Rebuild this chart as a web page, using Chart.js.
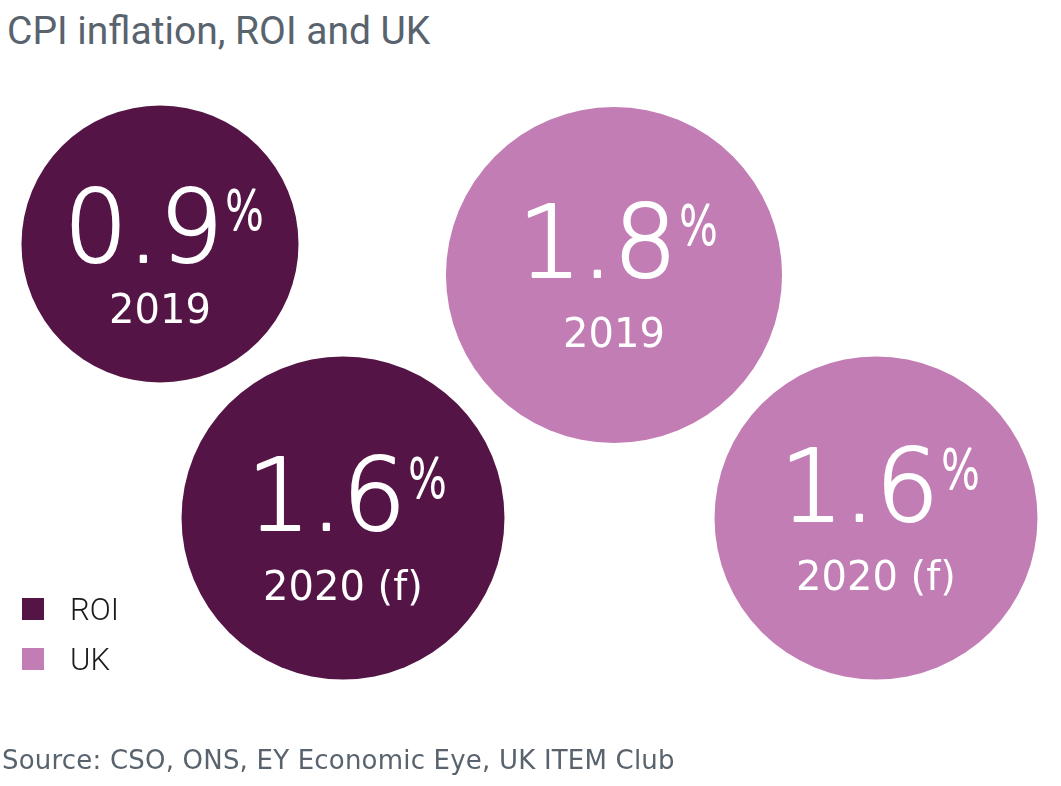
<!DOCTYPE html>
<html>
<head>
<meta charset="utf-8">
<script src="https://cdn.jsdelivr.net/npm/chart.js@4"></script>
<style>
  html, body { margin: 0; padding: 0; background: #fff; }
  #wrap { position: relative; width: 1061px; height: 786px; overflow: hidden; }
  #wrap canvas { position: absolute; left: 0; top: 0; }
  .title { position: absolute; left: 7px; top: 8px; font-family: Roboto, sans-serif; font-size: 39px; color: #58636e; white-space: nowrap; }
  .source { position: absolute; left: 2px; top: 745px; font-family: "DejaVu Sans", sans-serif; font-size: 26px; letter-spacing: 0.2px; color: #58636e; white-space: nowrap; }
  .legend { position: absolute; left: 22px; top: 598px; font-family: Roboto, sans-serif; font-weight: 300; font-size: 31px; color: #1a1a1a; }
  .legend div { position: relative; height: 50px; }
  .legend span.box { position: absolute; left: 0; top: 0; width: 22px; height: 22px; }
  .legend span.lab { position: absolute; left: 48px; top: -7px; }
</style>
</head>
<body>
<div id="wrap">
  <div class="title">CPI inflation, ROI and UK</div>
  <canvas id="cpi" width="1061" height="786"></canvas>
  <div class="legend" id="legend"></div>
  <div class="source">Source: CSO, ONS, EY Economic Eye, UK ITEM Club</div>
</div>
<script>
// data
const countries = ['ROI', 'UK'];
const years = ['2019', '2020 (f)'];
const roiValues = [0.9, 1.6];
const ukValues = [1.8, 1.6];

// styling / layout (kept apart from the data)
const colours = { ROI: '#541446', UK: '#c17db4' };
// where each bubble sits on the page in px: x, y, number baseline offset, year baseline offset
const spots = {
  ROI: [[160, 244, 19, 60], [343, 518, 13, 69]],
  UK: [[614, 275, 3, 69], [876, 518, 4, 68]]
};
// bubble radius grows with the rate
const radiusFor = v => 109 + 32.8 * v;

const valuesBy = { ROI: roiValues, UK: ukValues };

const datasets = countries.map(c => ({
  label: c,
  data: valuesBy[c].map((v, i) => ({
    x: spots[c][i][0],
    y: spots[c][i][1],
    r: radiusFor(v),
    v: v,
    year: years[i],
    dy: spots[c][i][2],
    dyYear: spots[c][i][3]
  })),
  backgroundColor: colours[c],
  borderWidth: 0,
  hoverBorderWidth: 0,
  hoverRadius: 0,
  clip: false
}));

// labels inside bubbles
const bubbleLabels = {
  id: 'bubbleLabels',
  afterDatasetsDraw(chart) {
    const ctx = chart.ctx;
    const numSize = 100, pctSize = 54, yearSize = 40, pctSqueeze = 0.76;
    chart.data.datasets.forEach((ds, di) => {
      chart.getDatasetMeta(di).data.forEach((el, i) => {
        const d = ds.data[i];
        const num = d.v.toFixed(1);
        ctx.save();
        ctx.fillStyle = '#fff';
        ctx.strokeStyle = '#fff';
        ctx.lineJoin = 'round';
        ctx.textBaseline = 'alphabetic';
        ctx.font = '200 ' + numSize + 'px "DejaVu Sans"';
        const wNum = ctx.measureText(num).width;
        ctx.font = '200 ' + pctSize + 'px "DejaVu Sans"';
        const wPct = ctx.measureText('%').width * pctSqueeze;
        const left = el.x + 3 - (wNum + wPct) / 2;
        const base = el.y + d.dy;
        ctx.textAlign = 'left';
        ctx.font = '200 ' + numSize + 'px "DejaVu Sans"';
        ctx.lineWidth = 2.2;
        ctx.fillText(num, left, base - 1);
        ctx.strokeText(num, left, base - 1);
        // squeezed superscript %
        ctx.font = '200 ' + pctSize + 'px "DejaVu Sans"';
        const top = base - 0.729 * numSize;
        ctx.save();
        ctx.translate(left + wNum + 2, top + 0.729 * pctSize);
        ctx.scale(pctSqueeze, 1);
        ctx.lineWidth = 1.8;
        ctx.fillText('%', 0, 0);
        ctx.strokeText('%', 0, 0);
        ctx.restore();
        ctx.font = yearSize + 'px "DejaVu Sans"';
        ctx.textAlign = 'center';
        ctx.fillText(d.year, el.x, base + d.dyYear);
        ctx.restore();
      });
    });
  }
};

new Chart(document.getElementById('cpi'), {
  type: 'bubble',
  data: { datasets },
  options: {
    responsive: false,
    animation: false,
    devicePixelRatio: 1,
    layout: { padding: 0, autoPadding: false },
    plugins: { legend: { display: false }, tooltip: { enabled: false } },
    scales: {
      x: { type: 'linear', min: 0, max: 1061, display: false },
      y: { type: 'linear', min: 0, max: 786, reverse: true, display: false }
    }
  },
  plugins: [bubbleLabels]
});

// legend
const legend = document.getElementById('legend');
countries.forEach(c => {
  const row = document.createElement('div');
  row.innerHTML = '<span class="box" style="background:' + colours[c] + '"></span><span class="lab">' + c + '</span>';
  legend.appendChild(row);
});
</script>
</body>
</html>
